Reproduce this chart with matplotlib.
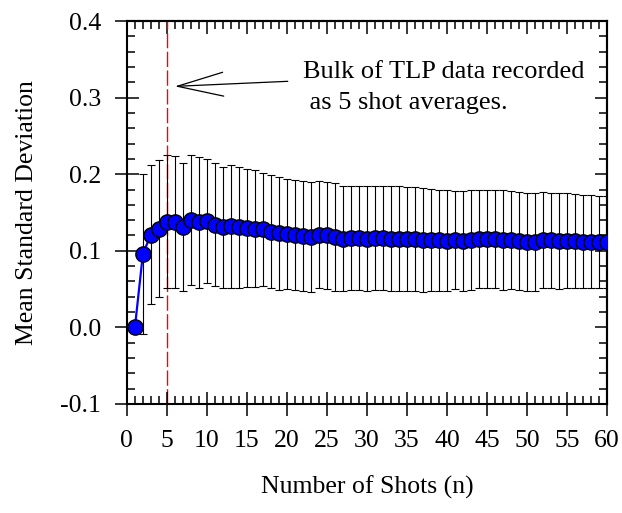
import numpy as np
import matplotlib.pyplot as plt
from matplotlib.ticker import MultipleLocator, FuncFormatter

plt.rcParams['font.family'] = ['Liberation Serif', 'DejaVu Serif']

# number of shots averaged
shots = list(range(1, 61))

# mean standard deviation
mean_std = [0.000, 0.096, 0.121, 0.129, 0.138, 0.138, 0.131, 0.140, 0.137, 0.139,
            0.134, 0.131, 0.132, 0.131, 0.130, 0.129, 0.128, 0.125, 0.123, 0.122,
            0.121, 0.119, 0.118, 0.121, 0.120, 0.118, 0.116, 0.117, 0.117, 0.116,
            0.117, 0.117, 0.116, 0.116, 0.115, 0.115, 0.114, 0.114, 0.114, 0.113,
            0.114, 0.113, 0.114, 0.116, 0.115, 0.115, 0.114, 0.114, 0.113, 0.112,
            0.111, 0.114, 0.114, 0.113, 0.113, 0.113, 0.112, 0.112, 0.112, 0.112]

# error bar half-widths
err = [0.000, 0.104, 0.091, 0.089, 0.087, 0.086, 0.083, 0.085, 0.085, 0.081,
       0.080, 0.079, 0.080, 0.079, 0.077, 0.076, 0.074, 0.074, 0.074, 0.072,
       0.072, 0.072, 0.072, 0.070, 0.070, 0.070, 0.069, 0.068, 0.068, 0.068,
       0.068, 0.068, 0.068, 0.068, 0.068, 0.068, 0.068, 0.067, 0.066, 0.066,
       0.064, 0.065, 0.065, 0.064, 0.064, 0.064, 0.065, 0.064, 0.064, 0.064,
       0.064, 0.063, 0.062, 0.063, 0.062, 0.061, 0.061, 0.061, 0.060, 0.060]

fs = 18.5

fig = plt.figure(figsize=(6.22, 5.13), dpi=100)
ax = fig.add_axes([0.204, 0.2125, 0.772, 0.7465])

ax.errorbar(shots[1:], mean_std[1:], yerr=err[1:], fmt='none', ecolor='black',
            elinewidth=0.8, capsize=3, capthick=0.8, zorder=2)
ax.plot(shots, mean_std, color='blue', lw=1.6, marker='o', markersize=11,
        markerfacecolor='blue', markeredgecolor='black', markeredgewidth=1.0, zorder=3)

ax.axvline(5, color='red', lw=1.0, dashes=(11, 2.5), zorder=1)

ax.annotate('', xy=(6.0, 0.3147), xytext=(20.1, 0.3213),
            arrowprops=dict(arrowstyle='->, head_length=3.3, head_width=0.86',
                            mutation_scale=10, color='black', lw=0.9,
                            shrinkA=0, shrinkB=0))
ax.text(22.0, 0.325, 'Bulk of TLP data recorded', fontsize=19, va='baseline', ha='left')
ax.text(22.0, 0.2848, ' as 5 shot averages.', fontsize=19, va='baseline', ha='left')

ax.set_xlim(0, 60)
ax.set_ylim(-0.1, 0.4)
ax.xaxis.set_major_locator(MultipleLocator(5))
ax.xaxis.set_minor_locator(MultipleLocator(1))
ax.yaxis.set_major_locator(MultipleLocator(0.1))
ax.yaxis.set_minor_locator(MultipleLocator(0.02))
ax.yaxis.set_major_formatter(FuncFormatter(lambda v, p: '%.1f' % v))

for s in ax.spines.values():
    s.set_linewidth(1.5)

ax.tick_params(which='major', direction='inout', length=17, width=1.1,
               labelsize=fs, top=False, right=False)
ax.tick_params(which='minor', direction='in', length=6, width=1.1,
               top=False, right=False)
ax.tick_params(axis='x', which='major', pad=10)
ax.tick_params(axis='y', which='major', pad=10)

# top and right axes: inward ticks only
top = ax.secondary_xaxis('top')
top.xaxis.set_major_locator(MultipleLocator(5))
top.xaxis.set_minor_locator(MultipleLocator(1))
top.tick_params(which='major', direction='in', length=9, width=1.1, labeltop=False)
top.tick_params(which='minor', direction='in', length=6, width=1.1)
right = ax.secondary_yaxis('right')
right.yaxis.set_major_locator(MultipleLocator(0.1))
right.yaxis.set_minor_locator(MultipleLocator(0.02))
right.tick_params(which='major', direction='in', length=9, width=1.1, labelright=False)
right.tick_params(which='minor', direction='in', length=6, width=1.1)
top.spines['top'].set_linewidth(1.5)
right.spines['right'].set_linewidth(1.5)

ax.set_xlabel('Number of Shots (n)', fontsize=fs, labelpad=17)
ax.set_ylabel('Mean Standard Deviation', fontsize=fs, labelpad=16)

fig.savefig('out.png', dpi=100)
